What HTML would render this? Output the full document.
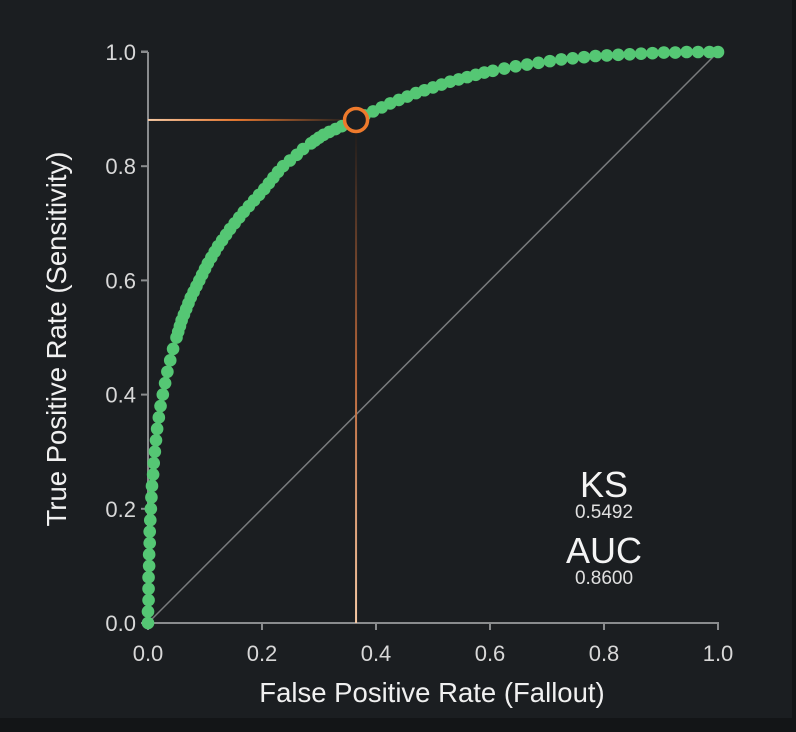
<!DOCTYPE html>
<html><head><meta charset="utf-8"><style>
html,body{margin:0;padding:0;background:#131517;}
#panel{position:absolute;left:0;top:0;width:792px;height:718px;background:#1b1e21;}
svg{position:absolute;left:0;top:0;}
text{font-family:"Liberation Sans",sans-serif;}
</style></head><body>
<div id="panel"></div>
<svg id="chart" width="796" height="732">
<defs>
<linearGradient id="hg" x1="0" x2="1" y1="0" y2="0">
<stop offset="0" stop-color="#f6c9a4"/><stop offset="0.45" stop-color="#e8782f"/><stop offset="1" stop-color="#2a2320"/></linearGradient>
<linearGradient id="vg" x1="0" x2="0" y1="0" y2="1">
<stop offset="0" stop-color="#201d1c"/><stop offset="0.5" stop-color="#b9673a"/><stop offset="1" stop-color="#f6c9a4"/></linearGradient>
</defs>
</svg>
<script>
const fpr=[0,0,0.001,0.001,0.001,0.002,0.002,0.003,0.003,0.004,0.005,0.006,0.007,0.009,0.010,0.012,0.014,0.016,0.019,0.022,0.026,0.030,0.034,0.039,0.044,
0.050,0.053,0.056,0.059,0.063,0.067,0.071,0.075,0.080,0.085,0.090,0.095,0.100,0.105,0.111,0.117,0.123,0.130,0.137,0.144,0.152,0.160,0.168,0.177,0.186,0.195,0.204,0.212,0.220,0.228,0.237,0.249,0.261,0.272,0.286,0.293,0.300,0.308,0.318,0.329,0.340,0.352,0.365,
0.380,0.395,0.410,0.425,0.440,0.455,0.470,0.485,0.500,0.515,0.530,0.545,0.560,0.575,0.590,0.605,
0.625,0.645,0.665,0.685,0.705,0.725,0.745,0.765,0.785,0.805,0.825,0.845,0.865,0.885,0.905,0.925,0.945,0.965,0.985,1];
const tpr=[0,0.02,0.04,0.06,0.08,0.10,0.12,0.14,0.16,0.18,0.20,0.22,0.24,0.26,0.28,0.30,0.32,0.34,0.36,0.38,0.40,0.42,0.44,0.46,0.48,
0.50,0.51,0.52,0.53,0.54,0.55,0.56,0.57,0.58,0.59,0.60,0.61,0.62,0.63,0.64,0.65,0.66,0.67,0.68,0.69,0.70,0.71,0.72,0.73,0.74,0.75,0.76,0.77,0.78,0.79,0.80,0.81,0.82,0.83,0.84,0.845,0.85,0.855,0.86,0.865,0.87,0.875,0.881,
0.889,0.896,0.903,0.910,0.916,0.922,0.928,0.933,0.938,0.943,0.948,0.952,0.956,0.960,0.964,0.967,
0.971,0.975,0.978,0.981,0.984,0.987,0.989,0.991,0.993,0.994,0.995,0.996,0.997,0.998,0.999,0.999,1,1,1,1];
const xTicks=[0,0.2,0.4,0.6,0.8,1.0];
const yTicks=[0,0.2,0.4,0.6,0.8,1.0];
const tickLabels=["0.0","0.2","0.4","0.6","0.8","1.0"];
const threshold=[0.365,0.881];
const stats=[["KS","0.5492"],["AUC","0.8600"]];

const svg=document.getElementById('chart');
const NS='http://www.w3.org/2000/svg';
const X=v=>148+v*570, Y=v=>623-v*571;
function mk(t,a){const e=document.createElementNS(NS,t);for(const k in a)e.setAttribute(k,a[k]);svg.appendChild(e);return e;}

let e=mk('line',{x1:X(0),y1:Y(0),x2:X(1),y2:Y(1),stroke:'#7a7c7e','stroke-width':1.5});


e=mk('path',{d:`M${X(0)},${Y(1)-0.5}H${X(0)-7}M${X(0)},${Y(1)}V${Y(0)}H${X(1)}V${Y(0)+7}`,fill:'none',stroke:'#8a8c8e','stroke-width':2});


xTicks.forEach((t,i)=>{
 let l=mk('line',{x1:X(t),y1:Y(0),x2:X(t),y2:Y(0)+7,stroke:'#8a8c8e','stroke-width':2});
 
 
 let tx=mk('text',{x:X(t),y:661,'text-anchor':'middle','font-size':22,fill:'#d8d8d8'});tx.textContent=tickLabels[i];
 
 
});
yTicks.forEach((t,i)=>{
 let l=mk('line',{x1:X(0)-7,y1:Y(t),x2:X(0),y2:Y(t),stroke:'#8a8c8e','stroke-width':2});
 
 
 let tx=mk('text',{x:136,y:Y(t)+8,'text-anchor':'end','font-size':22,fill:'#d8d8d8'});tx.textContent=tickLabels[i];
 
 
});
e=mk('text',{x:432,y:702,'text-anchor':'middle','font-size':27.5,fill:'#f0f0f0'});e.textContent='False Positive Rate (Fallout)';


e=mk('text',{x:0,y:0,'text-anchor':'middle','font-size':27.5,fill:'#f0f0f0',transform:'translate(66,339) rotate(-90)'});e.textContent='True Positive Rate (Sensitivity)';



e=mk('rect',{x:X(0),y:Y(threshold[1])-1,width:X(threshold[0])-X(0)-12,height:2,fill:'url(#hg)'});


e=mk('rect',{x:X(threshold[0])-1,y:Y(threshold[1])+12,width:2,height:Y(0)-Y(threshold[1])-12,fill:'url(#vg)'});



for(let i=0;i<fpr.length;i++){
 let c=mk('circle',{cx:X(fpr[i]),cy:Y(tpr[i]),r:6.3,fill:'#55c774'});
 
 
}
e=mk('circle',{cx:X(threshold[0]),cy:Y(threshold[1]),r:11.5,fill:'#1b1e21',stroke:'#ee7a2c','stroke-width':3.5});



stats.forEach((s,i)=>{
 let t=mk('text',{x:604,y:497+i*66,'text-anchor':'middle','font-size':36,fill:'#f4f4f4'});t.textContent=s[0];
 
 
 let v=mk('text',{x:604,y:518+i*66,'text-anchor':'middle','font-size':19,fill:'#e0e0e0'});v.textContent=s[1];
 
 
});
</script>
</body></html>
